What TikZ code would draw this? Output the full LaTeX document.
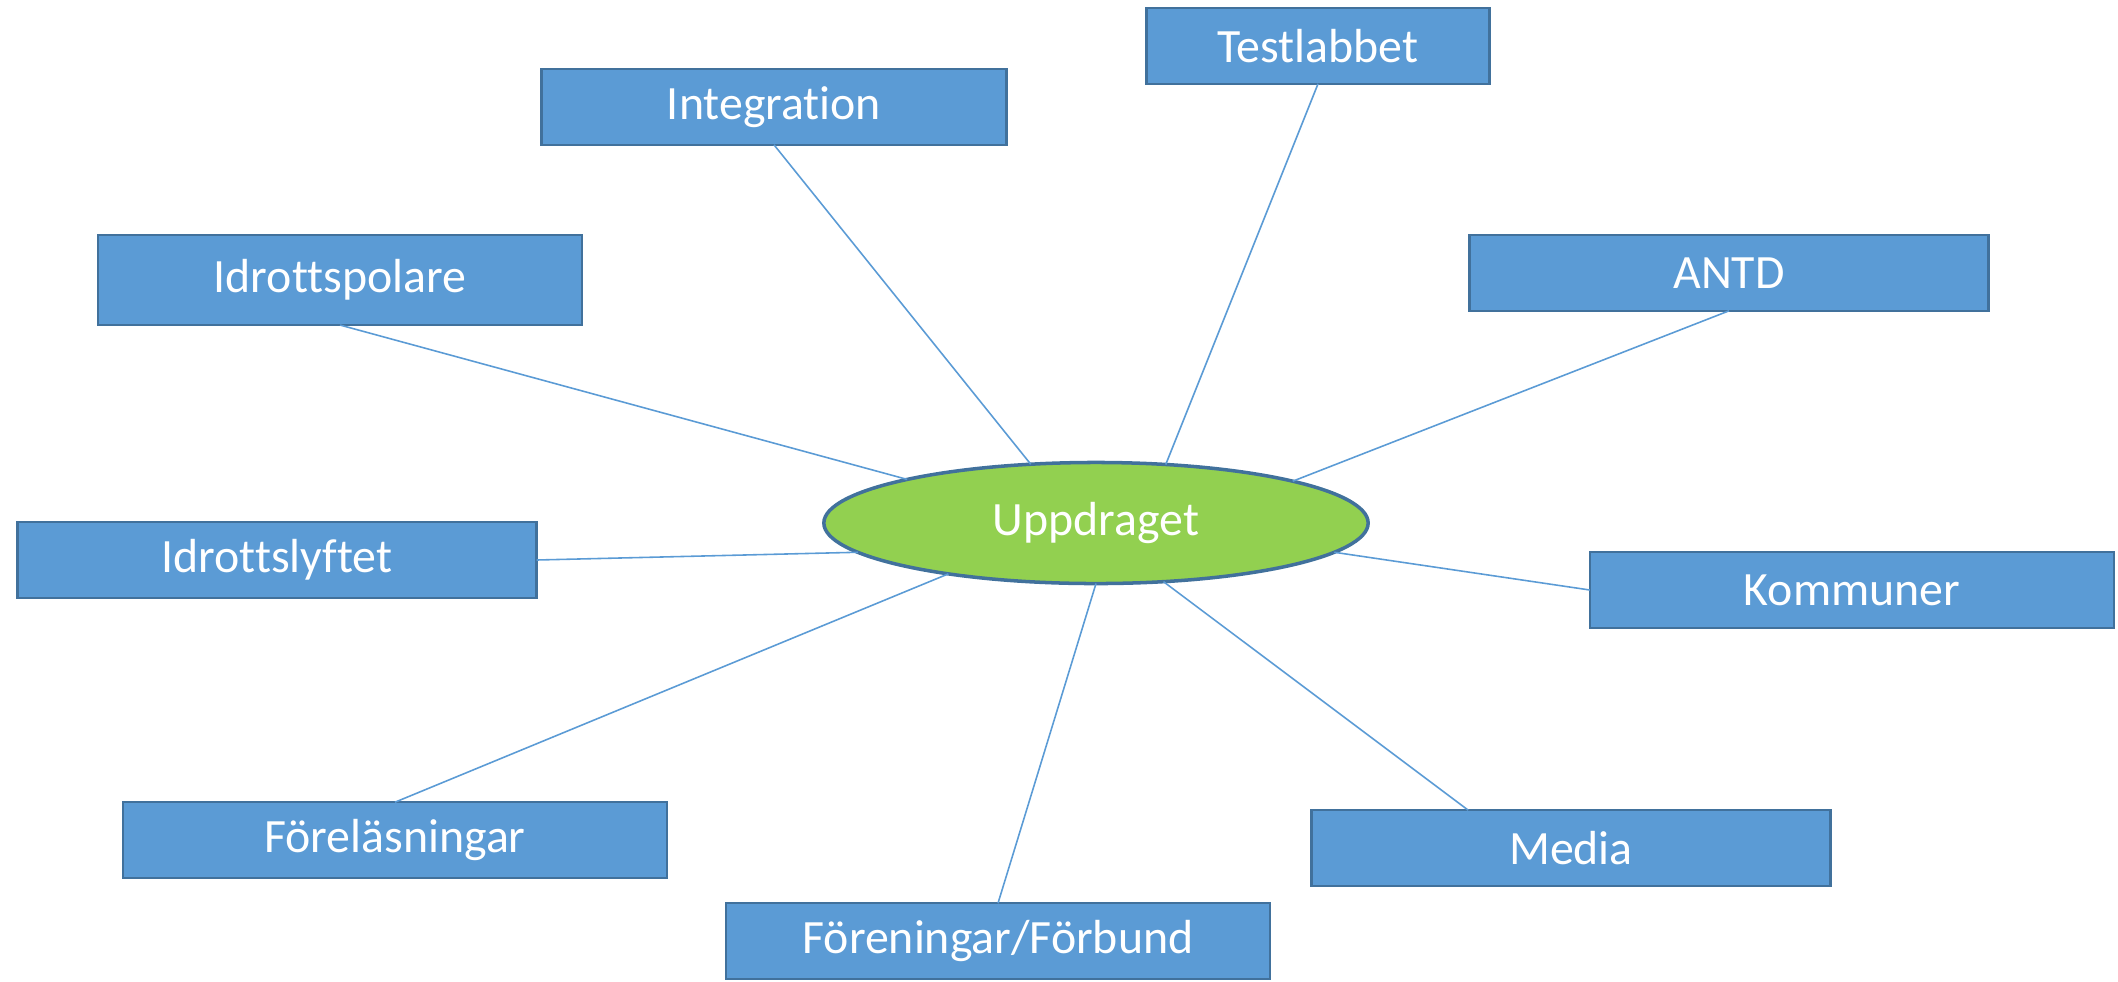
\documentclass[tikz,border=0pt]{standalone}
\usepackage{fontspec}
\setmainfont{Carlito}[Ligatures=NoCommon]
\usetikzlibrary{shapes.geometric,calc}
\definecolor{boxblue}{HTML}{5B9BD5}
\definecolor{boxedge}{HTML}{41719C}
\definecolor{hubgreen}{HTML}{92D050}

\begin{document}
\begin{tikzpicture}[x=0.01cm, y=-0.01cm,
  topic/.style={draw=boxedge, fill=boxblue, line width=0.7pt, text=white,
    inner sep=0pt, outer sep=0pt, minimum height=0.756cm,
    font=\fontsize{13.6}{16}\selectfont},
  hub/.style={ellipse, draw=boxedge, fill=hubgreen, line width=1pt, text=white,
    inner sep=0pt, outer sep=0pt, minimum width=5.44cm, minimum height=1.21cm,
    font=\fontsize{13.6}{16}\selectfont},
  link/.style={draw=boxblue, line width=0.45pt}]
\useasboundingbox (0,0) rectangle (2118,981);
% centre
\node[hub] (hub) at (1096,523) {Uppdraget};
% topics round it
\node[topic, minimum width=4.65cm] (integration) at (774,107) {Integration};
\node[topic, minimum width=3.43cm] (testlabbet) at (1318,46) {Testlabbet};
\node[topic, minimum width=4.84cm, minimum height=0.9cm] (idrottspolare) at (340,280) {Idrottspolare};
\node[topic, minimum width=5.19cm] (antd) at (1729,273) {ANTD};
\node[topic, minimum width=5.19cm] (idrottslyftet) at (277,560) {Idrottslyftet};
\node[topic, minimum width=5.24cm] (kommuner) at (1852,590) {Kommuner};
\node[topic, minimum width=5.44cm] (forelasningar) at (395,840) {Föreläsningar};
\node[topic, minimum width=5.19cm] (media) at (1571,848) {Media};
\node[topic, minimum width=5.44cm] (foreningar) at (998,941) {Föreningar/Förbund};
% links
\draw[link] (idrottspolare.south) -- (hub.167.4);
\draw[link] (integration.south) -- (hub.138.4);
\draw[link] (testlabbet.south) -- (hub.40);
\draw[link] (antd.south) -- (hub.12.7);
\draw[link] (kommuner.west) -- (hub.-7.5);
\draw[link] ($(media.north west)!0.302!(media.north east)$) -- (hub.-41.1);
\draw[link] (foreningar.north) -- (hub.-90);
\draw[link] (forelasningar.north) -- (hub.199.7);
\draw[link] (idrottslyftet.east) -- (hub.187.2);
\end{tikzpicture}
\end{document}
